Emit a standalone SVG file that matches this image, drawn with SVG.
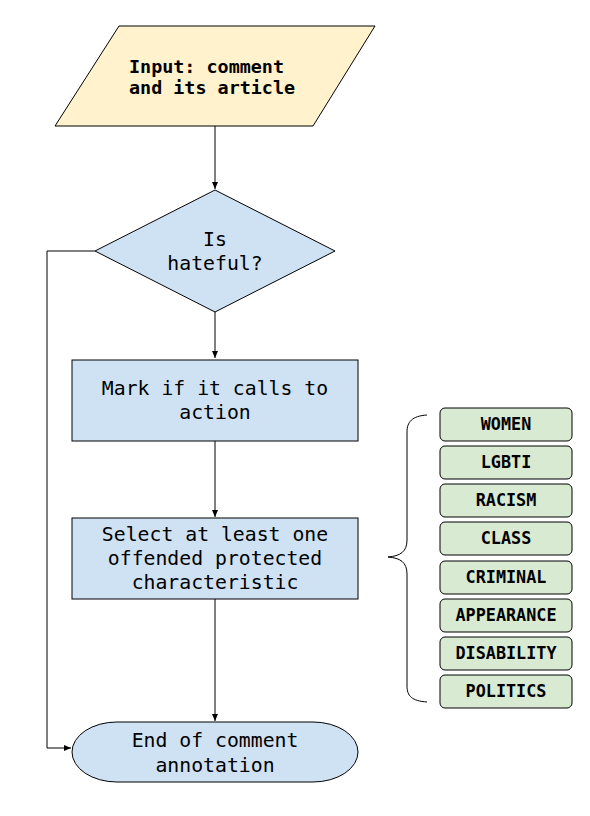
<svg xmlns="http://www.w3.org/2000/svg" width="590" height="816" viewBox="0 0 590 816">
<style>
text{font-family:"DejaVu Sans Mono","Liberation Mono",monospace;fill:#000;text-anchor:middle}
.t{font-size:19.8px}
.b{font-size:18.4px;font-weight:bold;text-anchor:start}
.c{font-size:16.8px;font-weight:bold}
.blue{fill:#cfe2f3;stroke:#000;stroke-width:1}
.green{fill:#d9ead3;stroke:#000;stroke-width:1}
.con{fill:none;stroke:#000;stroke-width:1}
</style>
<defs>
<marker id="ah" markerWidth="8" markerHeight="8" refX="7" refY="4" orient="auto" markerUnits="userSpaceOnUse">
<path d="M0,1 L7,4 L0,7 Z" fill="#000"/>
</marker>
</defs>
<g id="connectors">
<path class="con" d="M215,126 V189" marker-end="url(#ah)"/>
<path class="con" d="M215,312 V358" marker-end="url(#ah)"/>
<path class="con" d="M215,441 V517" marker-end="url(#ah)"/>
<path class="con" d="M215,599 V721" marker-end="url(#ah)"/>
<path class="con" d="M95,251 H47 V748 H71" marker-end="url(#ah)"/>
<path class="con" d="M427,415 C412,416 407,422 407,432 V540 C407,552 400,556 388,557 C400,558 407,562 407,574 V686 C407,696 412,701 427,702"/>
</g>
<g id="input">
<polygon points="119,26 375,26 313,126 55,126" fill="#fff2cc" stroke="#000" stroke-width="1"/>
<text class="b" x="129" y="73">Input: comment</text>
<text class="b" x="129" y="94">and its article</text>
</g>
<g id="hateful">
<polygon class="blue" points="215,190 335,251 215,312 95,251"/>
<text class="t" x="215" y="246">Is</text>
<text class="t" x="215" y="270">hateful?</text>
</g>
<g id="mark">
<rect class="blue" x="72" y="360" width="286" height="81"/>
<text class="t" x="215" y="395">Mark if it calls to</text>
<text class="t" x="215" y="419">action</text>
</g>
<g id="select">
<rect class="blue" x="72" y="518" width="286" height="81"/>
<text class="t" x="215" y="541">Select at least one</text>
<text class="t" x="215" y="565">offended protected</text>
<text class="t" x="215" y="589">characteristic</text>
</g>
<g id="end">
<rect class="blue" x="72" y="722" width="286" height="60" rx="45" ry="30"/>
<text class="t" x="215" y="747">End of comment</text>
<text class="t" x="215" y="772">annotation</text>
</g>
<g id="women"><rect class="green" x="440" y="408" width="132" height="33" rx="5"/><text class="c" x="506" y="430">WOMEN</text></g>
<g id="lgbti"><rect class="green" x="440" y="446" width="132" height="33" rx="5"/><text class="c" x="506" y="468">LGBTI</text></g>
<g id="racism"><rect class="green" x="440" y="484" width="132" height="33" rx="5"/><text class="c" x="506" y="506">RACISM</text></g>
<g id="class"><rect class="green" x="440" y="522" width="132" height="33" rx="5"/><text class="c" x="506" y="544">CLASS</text></g>
<g id="criminal"><rect class="green" x="440" y="561" width="132" height="33" rx="5"/><text class="c" x="506" y="583">CRIMINAL</text></g>
<g id="appearance"><rect class="green" x="440" y="599" width="132" height="33" rx="5"/><text class="c" x="506" y="621">APPEARANCE</text></g>
<g id="disability"><rect class="green" x="440" y="637" width="132" height="33" rx="5"/><text class="c" x="506" y="659">DISABILITY</text></g>
<g id="politics"><rect class="green" x="440" y="675" width="132" height="33" rx="5"/><text class="c" x="506" y="697">POLITICS</text></g>
</svg>
